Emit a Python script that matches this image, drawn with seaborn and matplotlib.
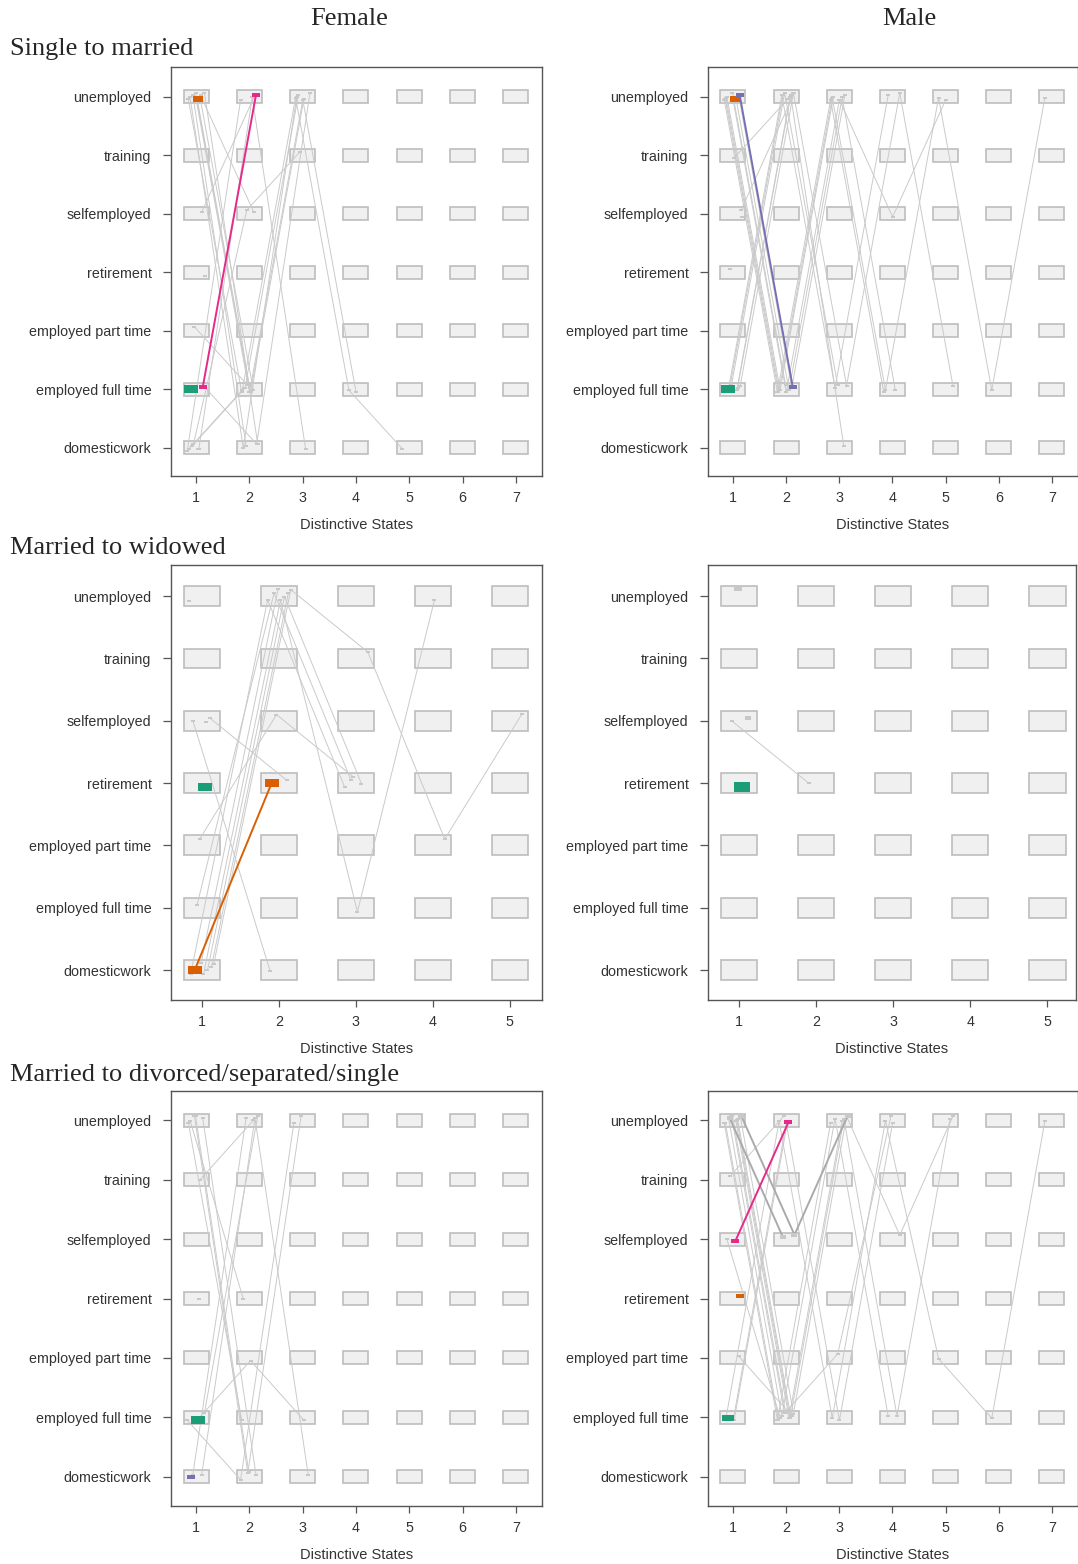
import numpy as np
import matplotlib.pyplot as plt
import pandas as pd
import seaborn as sns
from matplotlib.patches import Rectangle

# Setup
sns.set_style("white")
plt.rcParams['font.family'] = ['Liberation Sans', 'DejaVu Sans']

states = ["unemployed", "training", "selfemployed", "retirement",
          "employed part time", "employed full time", "domesticwork"]
codes = ["U", "T", "S", "R", "P", "F", "D"]
level = {c: i for i, c in enumerate(codes)}

# patterns of distinct states: (sequence, weight, highlight)
fem_married = [
    ("U", 5, "o"), ("F", 8, "g"), ("FU", 3, "m"),
    ("UF", 1, ""), ("UF", 1, ""), ("UF", 1, ""), ("UD", 1, ""), ("UD", 1, ""),
    ("UFU", 1, ""), ("UDU", 1, ""), ("SU", 1, ""), ("PF", 1, ""),
    ("DU", 1, ""), ("DUD", 1, ""), ("DFU", 1, ""), ("FDU", 1, ""),
    ("UFUF", 1, ""), ("DFUFD", 1, ""), ("US", 1, ""), ("DST", 1, ""),
    ("R", 1, ""), ("D", 1, ""),
]
male_married = [
    ("U", 5, "o"), ("F", 8, "g"), ("UF", 3, "p"),
    ("UF", 1, ""), ("UF", 1, ""), ("FU", 1, ""), ("FU", 1, ""),
    ("SU", 1, ""), ("TU", 1, ""), ("UFU", 1, ""), ("UFU", 1, ""),
    ("FUF", 1, ""), ("UFUF", 1, ""), ("UFUF", 1, ""), ("FUFU", 1, ""),
    ("FUFUF", 1, ""), ("UFUSU", 1, ""), ("UFUFUFU", 1, ""),
    ("FUD", 1, ""), ("R", 1, ""), ("S", 1, ""),
]
fem_widowed = [
    ("R", 10, "g"), ("DR", 9, "o"),
    ("DU", 1, ""), ("DU", 1, ""), ("DUR", 1, ""), ("DUR", 1, ""),
    ("FUR", 1, ""), ("DUTPS", 1, ""), ("DUFU", 1, ""),
    ("SD", 1, ""), ("SR", 1, ""), ("PSR", 1, ""), ("U", 1, ""), ("S", 1, ""),
]
male_widowed = [
    ("R", 11, "g"), ("SR", 1, ""), ("S", 2, ""), ("U", 3, ""),
]
fem_divorced = [
    ("F", 8, "g"), ("D", 3, "p"),
    ("UD", 1, ""), ("UD", 1, ""), ("UF", 1, ""), ("TU", 1, ""),
    ("DU", 1, ""), ("FU", 1, ""), ("FPF", 1, ""), ("UR", 1, ""),
    ("DUD", 1, ""), ("UDU", 1, ""), ("FDU", 1, ""), ("R", 1, ""),
]
male_divorced = [
    ("SU", 3, "m"), ("F", 6, "g"), ("R", 3, "o"),
    ("UF", 1, ""), ("UF", 1, ""), ("UF", 1, ""), ("US", 2, ""), ("USU", 2, ""),
    ("FU", 1, ""), ("SF", 1, ""), ("PF", 1, ""), ("UFPU", 1, ""),
    ("UFU", 1, ""), ("UFU", 1, ""), ("UFUF", 1, ""), ("UFUSU", 1, ""),
    ("FUFU", 1, ""), ("FUFUPFU", 1, ""), ("UFUFU", 1, ""), ("TU", 1, ""),
]

hl_colors = {"g": "#1B9E77", "o": "#D95F02", "p": "#7570B3", "m": "#E7298A"}
rect = [(-1, -0.6), (1, -0.6), (1, 0.6), (-1, 0.6), (-1, -0.6)]


def draw(ax, trajs, n_pos, box_w, box_h, margins):
    # background grid of state boxes
    for x in range(1, n_pos + 1):
        for y in range(len(states)):
            ax.add_patch(Rectangle((x - box_w / 2, y - box_h / 2), box_w, box_h,
                                   fc="#f0f0f0", ec="#bdbdbd", lw=1.2, zorder=1))
    rows = []
    for k, (seq, w, hl) in enumerate(trajs):
        fx = ((k + 1) * 0.618034) % 1 - 0.5
        fy = ((k + 1) * 0.754878) % 1 - 0.5
        for i, c in enumerate(seq):
            rows.append(dict(traj=k, pos=i + 1 + fx * box_w * 0.75,
                             y=level[c] + fy * box_h * 0.7, w=w, hl=hl, n=len(seq)))
    df = pd.DataFrame(rows)

    # grey patterns
    for w in sorted(df.loc[df.hl == "", "w"].unique()):
        sub = df[(df.hl == "") & (df.w == w) & (df.n > 1)]
        if len(sub):
            sns.lineplot(data=sub, x="pos", y="y", units="traj", estimator=None,
                         sort=False, color="#cacaca" if w == 1 else "#aaaaaa",
                         lw=0.7 * w, ax=ax, zorder=2)
        pts = df[(df.hl == "") & (df.w == w)]
        sns.scatterplot(data=pts, x="pos", y="y", marker=rect, s=6 + 12 * (w - 1),
                        color="#c8c8c8", linewidth=0, ax=ax, zorder=3)
    # highlighted patterns
    for hl, col in hl_colors.items():
        sub = df[df.hl == hl]
        if not len(sub):
            continue
        if sub.n.max() > 1:
            sns.lineplot(data=sub, x="pos", y="y", units="traj", estimator=None,
                         sort=False, color=col, lw=1.4, ax=ax, zorder=4)
        sns.scatterplot(data=sub, x="pos", y="y", marker=rect, s=sub.w.iloc[0] * 11,
                        color=col, linewidth=0, ax=ax, zorder=5)

    ax.set_xlim(1 - margins[2], n_pos + margins[3])
    ax.set_ylim(len(states) - 1 + margins[1], -margins[0])
    ax.set_xticks(range(1, n_pos + 1))
    ax.set_yticks(range(len(states)), states)
    ax.set_xlabel("Distinctive States", fontsize=10.5, color="#333333", labelpad=10)
    ax.set_ylabel("")
    ax.tick_params(axis="y", length=6, width=0.9, pad=8, labelsize=10.3,
                   left=True, colors="#555555", labelcolor="#333333")
    ax.tick_params(axis="x", length=5, width=0.9, pad=5.5, labelsize=10.3,
                   bottom=True, colors="#555555", labelcolor="#333333")
    for sp in ax.spines.values():
        sp.set_visible(True)
        sp.set_color("#555555")
        sp.set_linewidth(1.0)


fig = plt.figure(figsize=(10.78, 15.64), dpi=100)
W, H = 1078, 1564


def add_ax(left, top, right, bottom):
    return fig.add_axes([left / W, 1 - bottom / H, (right - left) / W, (bottom - top) / H])


panels = [
    (fem_married, 7, 0.47, 0.22, (0.51, 0.48, 0.47, 0.49), (171, 67, 542, 476)),
    (male_married, 7, 0.47, 0.22, (0.51, 0.48, 0.47, 0.49), (708, 67, 1078, 476)),
    (fem_widowed, 5, 0.47, 0.32, (0.50, 0.48, 0.40, 0.42), (171, 565, 542, 1000)),
    (male_widowed, 5, 0.47, 0.32, (0.50, 0.48, 0.40, 0.37), (708, 565, 1076, 1000)),
    (fem_divorced, 7, 0.47, 0.22, (0.49, 0.49, 0.47, 0.49), (171, 1091, 542, 1506)),
    (male_divorced, 7, 0.47, 0.22, (0.49, 0.49, 0.47, 0.49), (708, 1091, 1078, 1506)),
]
for trajs, n_pos, bw, bh, margins, box in panels:
    ax = add_ax(*box)
    draw(ax, trajs, n_pos, bw, bh, margins)

serif = ['Liberation Serif', 'DejaVu Serif']
fig.text(349 / W, 1 - 19 / H, "Female", ha="center", va="center", fontsize=19, family=serif)
fig.text(909 / W, 1 - 19 / H, "Male", ha="center", va="center", fontsize=19, family=serif)
for label, y in [("Single to married", 49), ("Married to widowed", 548),
                 ("Married to divorced/separated/single", 1075)]:
    fig.text(10 / W, 1 - y / H, label, ha="left", va="center", fontsize=19, family=serif)

plt.savefig("out.png", dpi=100)
